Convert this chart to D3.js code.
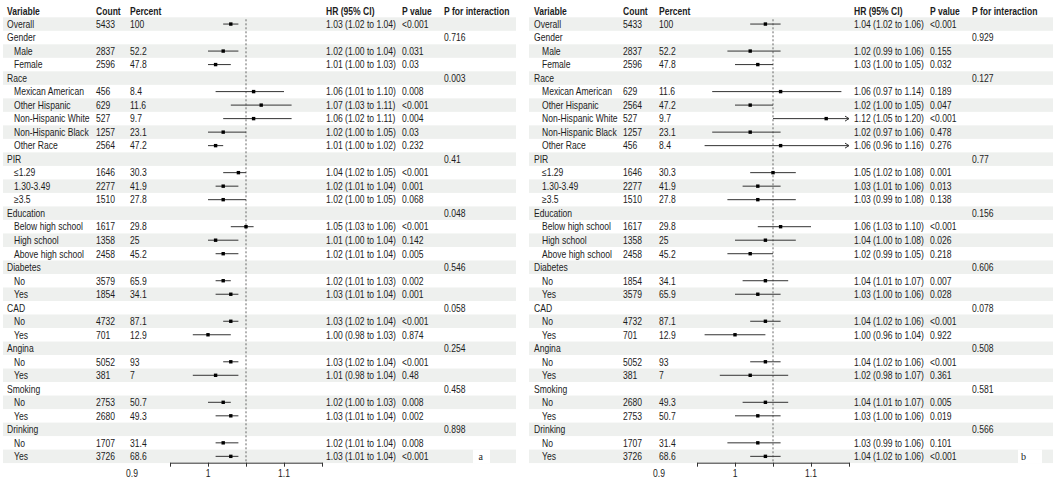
<!DOCTYPE html>
<html lang="en">
<head>
<meta charset="UTF-8">
<title>Subgroup forest plots</title>
<style>
  body { margin: 0; background: #fff; }
  svg { display: block; }
  text { font-family: "Liberation Sans", Arial, sans-serif; fill: #1c1c1c; }
</style>
</head>
<body>
<div id="chart"></div>
<script src="https://d3js.org/d3.v7.min.js"></script>
<script>
// rows shared by both panels
const rowLabels = ["Overall", "Gender", "Male", "Female", "Race", "Mexican American", "Other Hispanic",
  "Non-Hispanic White", "Non-Hispanic Black", "Other Race", "PIR", "\u22641.29", "1.30-3.49", "\u22653.5",
  "Education", "Below high school", "High school", "Above high school", "Diabetes", "No", "Yes",
  "CAD", "No", "Yes", "Angina", "No", "Yes", "Smoking", "No", "Yes", "Drinking", "No", "Yes"];
const rowLevel = [0, 0, 1, 1, 0, 1, 1, 1, 1, 1, 0, 1, 1, 1, 0, 1, 1, 1, 0, 1, 1, 0, 1, 1, 0, 1, 1, 0, 1, 1, 0, 1, 1];
const headers = ["Variable", "Count", "Percent", "HR (95% CI)", "P value", "P for interaction"];
const axisTickValues = [0.95, 1, 1.05, 1.1, 1.15];
const axisLabelValues = [0.9, 1, 1.1];
const refValue = 1.05;

// panel a
const countA = [5433, null, 2837, 2596, null, 456, 629, 527, 1257, 2564, null, 1646, 2277, 1510, null, 1617, 1358, 2458, null, 3579, 1854, null, 4732, 701, null, 5052, 381, null, 2753, 2680, null, 1707, 3726];
const pctA = [100, null, 52.2, 47.8, null, 8.4, 11.6, 9.7, 23.1, 47.2, null, 30.3, 41.9, 27.8, null, 29.8, 25, 45.2, null, 65.9, 34.1, null, 87.1, 12.9, null, 93, 7, null, 50.7, 49.3, null, 31.4, 68.6];
const hrA = [1.03, null, 1.02, 1.01, null, 1.06, 1.07, 1.06, 1.02, 1.01, null, 1.04, 1.02, 1.02, null, 1.05, 1.01, 1.02, null, 1.02, 1.03, null, 1.03, 1.00, null, 1.03, 1.01, null, 1.02, 1.03, null, 1.02, 1.03];
const loA = [1.02, null, 1.00, 1.00, null, 1.01, 1.03, 1.02, 1.00, 1.00, null, 1.02, 1.01, 1.00, null, 1.03, 1.00, 1.01, null, 1.01, 1.01, null, 1.02, 0.98, null, 1.02, 0.98, null, 1.00, 1.01, null, 1.01, 1.01];
const hiA = [1.04, null, 1.04, 1.03, null, 1.10, 1.11, 1.11, 1.05, 1.02, null, 1.05, 1.04, 1.05, null, 1.06, 1.04, 1.04, null, 1.03, 1.04, null, 1.04, 1.03, null, 1.04, 1.04, null, 1.03, 1.04, null, 1.04, 1.04];
const pvalA = ["<0.001", "", "0.031", "0.03", "", "0.008", "<0.001", "0.004", "0.03", "0.232", "", "<0.001", "0.001", "0.068", "", "<0.001", "0.142", "0.005", "", "0.002", "0.001", "", "<0.001", "0.874", "", "<0.001", "0.48", "", "0.008", "0.002", "", "0.008", "<0.001"];
const pintA = ["", "0.716", "", "", "0.003", "", "", "", "", "", "0.41", "", "", "", "0.048", "", "", "", "0.546", "", "", "0.058", "", "", "0.254", "", "", "0.458", "", "", "0.898", "", ""];

// panel b
const countB = [5433, null, 2837, 2596, null, 629, 2564, 527, 1257, 456, null, 1646, 2277, 1510, null, 1617, 1358, 2458, null, 1854, 3579, null, 4732, 701, null, 5052, 381, null, 2680, 2753, null, 1707, 3726];
const pctB = [100, null, 52.2, 47.8, null, 11.6, 47.2, 9.7, 23.1, 8.4, null, 30.3, 41.9, 27.8, null, 29.8, 25, 45.2, null, 34.1, 65.9, null, 87.1, 12.9, null, 93, 7, null, 49.3, 50.7, null, 31.4, 68.6];
const hrB = [1.04, null, 1.02, 1.03, null, 1.06, 1.02, 1.12, 1.02, 1.06, null, 1.05, 1.03, 1.03, null, 1.06, 1.04, 1.02, null, 1.04, 1.03, null, 1.04, 1.00, null, 1.04, 1.02, null, 1.04, 1.03, null, 1.03, 1.04];
const loB = [1.02, null, 0.99, 1.00, null, 0.97, 1.00, 1.05, 0.97, 0.96, null, 1.02, 1.01, 0.99, null, 1.03, 1.00, 0.99, null, 1.01, 1.00, null, 1.02, 0.96, null, 1.02, 0.98, null, 1.01, 1.00, null, 0.99, 1.02];
const hiB = [1.06, null, 1.06, 1.05, null, 1.14, 1.05, 1.20, 1.06, 1.16, null, 1.08, 1.06, 1.08, null, 1.10, 1.08, 1.05, null, 1.07, 1.06, null, 1.06, 1.04, null, 1.06, 1.07, null, 1.07, 1.06, null, 1.06, 1.06];
const pvalB = ["<0.001", "", "0.155", "0.032", "", "0.189", "0.047", "<0.001", "0.478", "0.276", "", "0.001", "0.013", "0.138", "", "<0.001", "0.026", "0.218", "", "0.007", "0.028", "", "<0.001", "0.922", "", "<0.001", "0.361", "", "0.005", "0.019", "", "0.101", "<0.001"];
const pintB = ["", "0.929", "", "", "0.127", "", "", "", "", "", "0.77", "", "", "", "0.156", "", "", "", "0.606", "", "", "0.078", "", "", "0.508", "", "", "0.581", "", "", "0.566", "", ""];

const W = 1053, H = 484;
const svg = d3.select("#chart").append("svg").attr("width", W).attr("height", H);

// row positions
const yScale = d3.scaleBand().domain(d3.range(rowLabels.length)).range([17.3, 463.1]).padding(0);
const rowY = i => yScale(i) + yScale.bandwidth() / 2;
const fmt2 = d3.format(".2f");
const SX = 0.84; // text in the picture is horizontally squeezed

function addText(g, x, y, str, bold) {
  return g.append("text")
    .attr("transform", `translate(${x},${y}) scale(${SX},1)`)
    .style("font-size", "10.2px")
    .style("font-weight", bold ? "bold" : "normal")
    .text(str);
}

const panels = [
  { count: countA, pct: pctA, hr: hrA, lo: loA, hi: hiA, pval: pvalA, pint: pintA, tag: "a",
    band: [3, 516], col: [7, 96, 130, 326, 402, 444], indent: 7, axis: [170, 322], tagBox: [473, 490] },
  { count: countB, pct: pctB, hr: hrB, lo: loB, hi: hiB, pval: pvalB, pint: pintB, tag: "b",
    band: [529, 1053], col: [534, 623, 659, 854, 930, 972], indent: 8, axis: [697, 849], tagBox: [1018, 1042] }
];

panels.forEach(function(p) {
  const g = svg.append("g");
  const x = d3.scaleLinear().domain([0.95, 1.15]).range(p.axis);
  const [xmin, xmax] = x.domain();

  // zebra bands on even rows
  g.selectAll(".band")
    .data(d3.range(rowLabels.length).filter(i => i % 2 === 0))
    .enter().append("rect")
    .attr("x", p.band[0])
    .attr("y", i => yScale(i))
    .attr("width", p.band[1] - p.band[0])
    .attr("height", yScale.bandwidth())
    .attr("fill", "#eef0ee");

  // panel tag box
  const last = rowLabels.length - 1;
  g.append("rect")
    .attr("x", p.tagBox[0]).attr("y", yScale(last))
    .attr("width", p.tagBox[1] - p.tagBox[0]).attr("height", yScale.bandwidth())
    .attr("fill", "#fff");
  g.append("text")
    .attr("x", p.tagBox[0] + (p.tag === "a" ? 5.5 : 3))
    .attr("y", rowY(last) + 3.6)
    .style("font-family", "'Liberation Serif', 'Times New Roman', serif")
    .style("font-size", "10px")
    .text(p.tag);

  // headers
  headers.forEach((h, k) => addText(g, p.col[k], 15, h, true));

  // table text
  rowLabels.forEach(function(lab, i) {
    const by = rowY(i) + 3.8;
    addText(g, p.col[0] + (rowLevel[i] ? p.indent : 0), by, lab, false);
    if (p.count[i] != null) addText(g, p.col[1], by, String(p.count[i]), false);
    if (p.pct[i] != null) addText(g, p.col[2], by, String(p.pct[i]), false);
    if (p.hr[i] != null) addText(g, p.col[3], by, `${fmt2(p.hr[i])} (${fmt2(p.lo[i])} to ${fmt2(p.hi[i])})`, false);
    if (p.pval[i]) addText(g, p.col[4], by, p.pval[i], false);
    if (p.pint[i]) addText(g, p.col[5], by, p.pint[i], false);
  });

  // reference line
  g.append("line")
    .attr("x1", x(refValue)).attr("x2", x(refValue))
    .attr("y1", yScale(0) + 2).attr("y2", 462.7)
    .attr("stroke", "#555").attr("stroke-width", 0.9)
    .attr("stroke-dasharray", "2,2");

  // CIs and points
  const rows = d3.range(rowLabels.length).filter(i => p.hr[i] != null);
  g.selectAll(".ci").data(rows).enter().append("line")
    .attr("x1", i => x(Math.max(p.lo[i], xmin)))
    .attr("x2", i => x(Math.min(p.hi[i], xmax)))
    .attr("y1", rowY).attr("y2", rowY)
    .attr("stroke", "#333").attr("stroke-width", 1);

  g.selectAll(".arrow").data(rows.filter(i => p.hi[i] > xmax)).enter().append("path")
    .attr("d", i => `M${x(xmax) - 4},${rowY(i) - 2.5}L${x(xmax)},${rowY(i)}L${x(xmax) - 4},${rowY(i) + 2.5}`)
    .attr("fill", "none").attr("stroke", "#333").attr("stroke-width", 1);

  g.selectAll(".pt").data(rows).enter().append("rect")
    .attr("x", i => x(p.hr[i]) - 1.7)
    .attr("y", i => rowY(i) - 1.7)
    .attr("width", 3.4).attr("height", 3.4)
    .attr("fill", "#000");

  // axis
  const ax = g.append("g")
    .attr("transform", "translate(0,462.7)")
    .call(d3.axisBottom(x).tickValues(axisTickValues).tickFormat("").tickSizeInner(4).tickSizeOuter(0));
  ax.selectAll("path, line").attr("stroke", "#333");

  axisLabelValues.forEach(v => {
    addText(g, x(v), 476.5, d3.format("")(v), false).attr("text-anchor", "middle");
  });
});
</script>
</body>
</html>
